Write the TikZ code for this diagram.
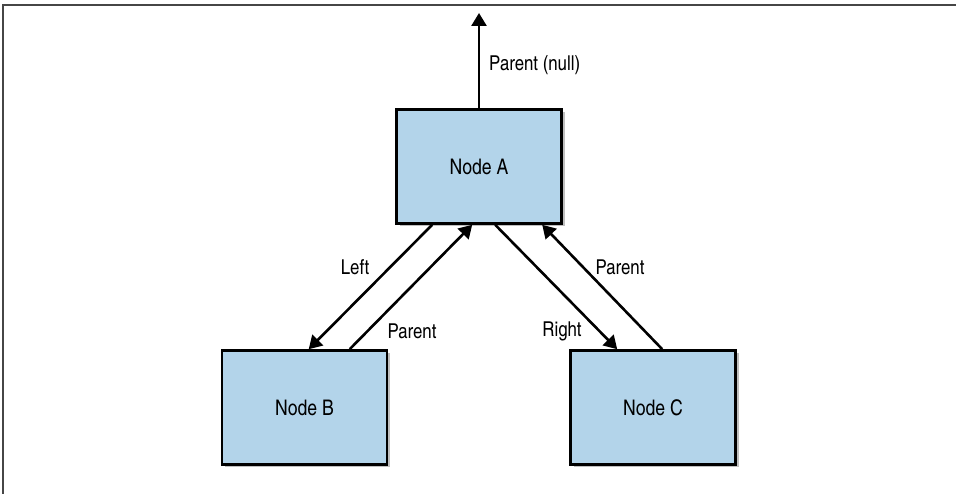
\documentclass[tikz,border=0pt]{standalone}
\usepackage{fontspec}
\setmainfont{texgyreheroscn-regular.otf}
\usetikzlibrary{arrows.meta,shadows}
\definecolor{boxblue}{RGB}{179,212,234}
\definecolor{framegray}{RGB}{70,70,70}
\begin{document}
\begin{tikzpicture}[x=1pt, y=1pt,
    treenode/.style={draw=black, line width=2.6pt, fill=boxblue,
        minimum width=165pt, minimum height=114pt, inner sep=0pt,
        drop shadow={shadow xshift=3pt, shadow yshift=-3pt, opacity=0.25, fill=black},
        font=\fontsize{21.5}{25}\selectfont},
    link/.style={line width=2.6pt, -{Triangle[length=13pt, width=15pt]}},
    lbl/.style={font=\fontsize{20.5}{24}\selectfont, inner sep=0pt}
]
    \useasboundingbox (0,0) rectangle (956,494);
    % frame
    \draw[framegray, line width=1.5pt] (3,0) -- (3,489) -- (956,489);

    \node[treenode] (A) at (479,327.5) {Node A};
    \node[treenode] (B) at (304.5,86.5) {Node B};
    \node[treenode] (C) at (653,86.5) {Node C};

    % parent of the root
    \coordinate (top) at (479,481);
    \draw[link] (A.north) -- (top);
    \node[lbl, anchor=west] (pnull) at (489,429) {Parent (null)};

    % left child
    \draw[link] ([xshift=37pt]A.south west) -- ([xshift=88pt]B.north west);
    \draw[link] ([xshift=129pt]B.north west) -- ([xshift=77pt]A.south west);
    \node[lbl] (lleft) at (355,227) {Left};
    \node[lbl] (lpb) at (412,163) {Parent};

    % right child
    \draw[link] ([xshift=100pt]A.south west) -- ([xshift=48pt]C.north west);
    \draw[link] ([xshift=93pt]C.north west) -- ([xshift=147pt]A.south west);
    \node[lbl] (lright) at (562,163) {Right};
    \node[lbl] (lpc) at (620,227) {Parent};
\end{tikzpicture}
\end{document}
